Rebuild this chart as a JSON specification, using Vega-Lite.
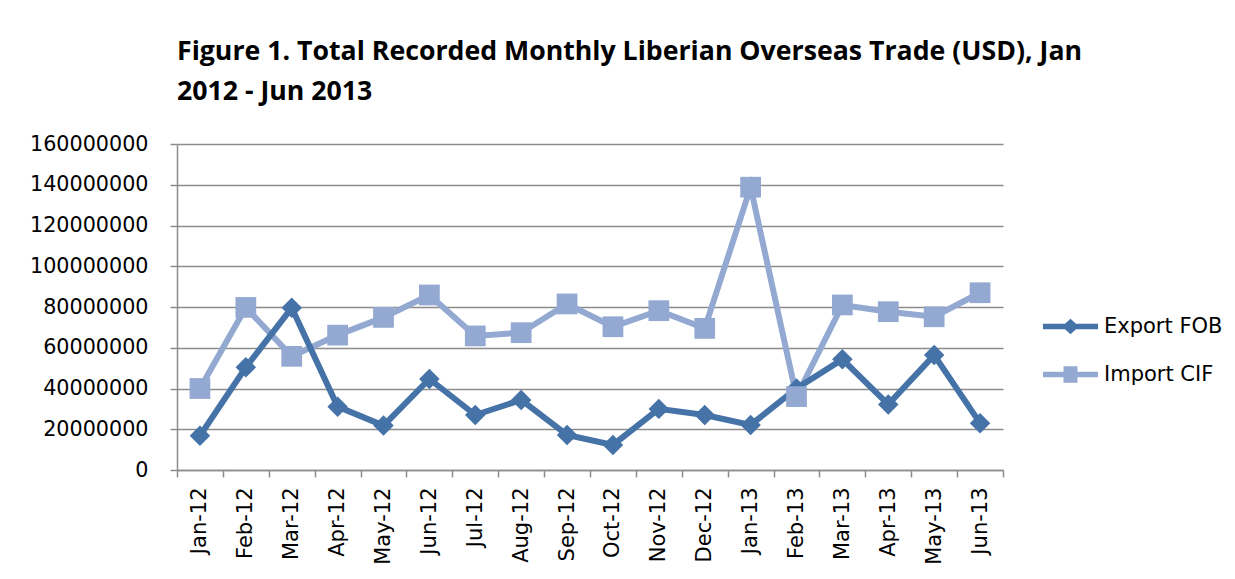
{
  "$schema": "https://vega.github.io/schema/vega-lite/v6.json",
  "autosize": {"type": "none"},
  "width": 826,
  "height": 326,
  "padding": {"left": 177, "top": 144, "right": 232, "bottom": 109},
  "background": "white",
  "title": {
    "text": ["Figure 1. Total Recorded Monthly Liberian Overseas Trade (USD), Jan", "2012 - Jun 2013"],
    "font": "Open Sans",
    "fontWeight": "bold",
    "fontSize": 26.7,
    "lineHeight": 40,
    "anchor": "start",
    "frame": "group",
    "offset": 27,
    "color": "black"
  },
  "data": {
    "values": [
      {"month": "Jan-12", "series": "Export FOB", "value": 16800000},
      {"month": "Feb-12", "series": "Export FOB", "value": 50400000},
      {"month": "Mar-12", "series": "Export FOB", "value": 79600000},
      {"month": "Apr-12", "series": "Export FOB", "value": 31100000},
      {"month": "May-12", "series": "Export FOB", "value": 21800000},
      {"month": "Jun-12", "series": "Export FOB", "value": 44700000},
      {"month": "Jul-12", "series": "Export FOB", "value": 27000000},
      {"month": "Aug-12", "series": "Export FOB", "value": 34400000},
      {"month": "Sep-12", "series": "Export FOB", "value": 17200000},
      {"month": "Oct-12", "series": "Export FOB", "value": 12300000},
      {"month": "Nov-12", "series": "Export FOB", "value": 30000000},
      {"month": "Dec-12", "series": "Export FOB", "value": 27000000},
      {"month": "Jan-13", "series": "Export FOB", "value": 22100000},
      {"month": "Feb-13", "series": "Export FOB", "value": 40000000},
      {"month": "Mar-13", "series": "Export FOB", "value": 54300000},
      {"month": "Apr-13", "series": "Export FOB", "value": 32200000},
      {"month": "May-13", "series": "Export FOB", "value": 56400000},
      {"month": "Jun-13", "series": "Export FOB", "value": 23000000},
      {"month": "Jan-12", "series": "Import CIF", "value": 40000000},
      {"month": "Feb-12", "series": "Import CIF", "value": 79800000},
      {"month": "Mar-12", "series": "Import CIF", "value": 55800000},
      {"month": "Apr-12", "series": "Import CIF", "value": 66200000},
      {"month": "May-12", "series": "Import CIF", "value": 74900000},
      {"month": "Jun-12", "series": "Import CIF", "value": 85900000},
      {"month": "Jul-12", "series": "Import CIF", "value": 65800000},
      {"month": "Aug-12", "series": "Import CIF", "value": 67400000},
      {"month": "Sep-12", "series": "Import CIF", "value": 81500000},
      {"month": "Oct-12", "series": "Import CIF", "value": 70300000},
      {"month": "Nov-12", "series": "Import CIF", "value": 78200000},
      {"month": "Dec-12", "series": "Import CIF", "value": 69500000},
      {"month": "Jan-13", "series": "Import CIF", "value": 138800000},
      {"month": "Feb-13", "series": "Import CIF", "value": 36000000},
      {"month": "Mar-13", "series": "Import CIF", "value": 81000000},
      {"month": "Apr-13", "series": "Import CIF", "value": 77700000},
      {"month": "May-13", "series": "Import CIF", "value": 75200000},
      {"month": "Jun-13", "series": "Import CIF", "value": 87000000}
    ]
  },
  "encoding": {
    "x": {
      "field": "month",
      "type": "nominal",
      "sort": ["Jan-12","Feb-12","Mar-12","Apr-12","May-12","Jun-12","Jul-12","Aug-12","Sep-12","Oct-12","Nov-12","Dec-12","Jan-13","Feb-13","Mar-13","Apr-13","May-13","Jun-13"],
      "scale": {"paddingInner": 0, "paddingOuter": 0},
      "axis": {
        "title": null,
        "labelAngle": -90,
        "labelFont": "DejaVu Sans",
        "labelFontSize": 21,
        "labelColor": "black",
        "labelPadding": 10,
        "tickBand": "extent",
        "tickSize": 7,
        "tickColor": "#8c8c8c",
        "tickWidth": 1.5,
        "domainColor": "#8c8c8c",
        "domainWidth": 1.5,
        "grid": false
      }
    },
    "y": {
      "field": "value",
      "type": "quantitative",
      "scale": {"domain": [0, 160000000], "nice": false},
      "axis": {
        "title": null,
        "values": [0, 20000000, 40000000, 60000000, 80000000, 100000000, 120000000, 140000000, 160000000],
        "format": "d",
        "labelFont": "DejaVu Sans",
        "labelFontSize": 20.7,
        "labelColor": "black",
        "labelPadding": 22,
        "tickSize": 7,
        "tickColor": "#8c8c8c",
        "tickWidth": 1.5,
        "domainColor": "#8c8c8c",
        "domainWidth": 1.5,
        "grid": true,
        "gridColor": "#8c8c8c",
        "gridWidth": 1.5
      }
    }
  },
  "layer": [
    {
      "transform": [{"filter": "datum.series === 'Import CIF'"}],
      "mark": {"type": "line", "strokeWidth": 6, "color": "#93A9D2"}
    },
    {
      "transform": [{"filter": "datum.series === 'Export FOB'"}],
      "mark": {"type": "line", "strokeWidth": 6, "color": "#4572A7"}
    },
    {
      "transform": [{"filter": "datum.series === 'Export FOB'"}],
      "mark": {"type": "point", "shape": "diamond", "filled": true, "opacity": 1, "size": 420, "color": "#4572A7"}
    },
    {
      "transform": [{"filter": "datum.series === 'Import CIF'"}],
      "mark": {"type": "point", "shape": "square", "filled": true, "opacity": 1, "size": 430, "color": "#93A9D2"}
    },
    {
      "transform": [{"filter": "false"}],
      "mark": {"type": "point", "filled": true, "opacity": 1, "size": 400},
      "encoding": {
        "color": {
          "field": "series",
          "type": "nominal",
          "scale": {"domain": ["Export FOB", "Import CIF"], "range": ["#4572A7", "#93A9D2"]},
          "legend": {
            "title": null,
            "orient": "none",
            "legendX": 883,
            "legendY": 172,
            "padding": 0,
            "symbolSize": 400,
            "symbolOpacity": 1,
            "symbolStrokeWidth": 0,
            "labelFont": "DejaVu Sans",
            "labelFontSize": 21,
            "labelColor": "black",
            "labelOffset": 23,
            "rowPadding": 26,
            "labelLimit": 300
          }
        },
        "shape": {
          "field": "series",
          "type": "nominal",
          "scale": {
            "domain": ["Export FOB", "Import CIF"],
            "range": [
              "M-2.75,-0.27L-0.55,-0.27L0,-0.78L0.55,-0.27L2.75,-0.27L2.75,0.27L0.55,0.27L0,0.78L-0.55,0.27L-2.75,0.27Z",
              "M-2.75,-0.27L-0.7,-0.27L-0.7,-0.82L0.7,-0.82L0.7,-0.27L2.75,-0.27L2.75,0.27L0.7,0.27L0.7,0.82L-0.7,0.82L-0.7,0.27L-2.75,0.27Z"
            ]
          },
          "legend": {
            "title": null,
            "orient": "none",
            "legendX": 883,
            "legendY": 172,
            "padding": 0,
            "symbolSize": 400,
            "symbolOpacity": 1,
            "symbolStrokeWidth": 0,
            "labelFont": "DejaVu Sans",
            "labelFontSize": 21,
            "labelColor": "black",
            "labelOffset": 23,
            "rowPadding": 26,
            "labelLimit": 300
          }
        }
      }
    }
  ],
  "config": {
    "view": {"stroke": null}
  }
}
